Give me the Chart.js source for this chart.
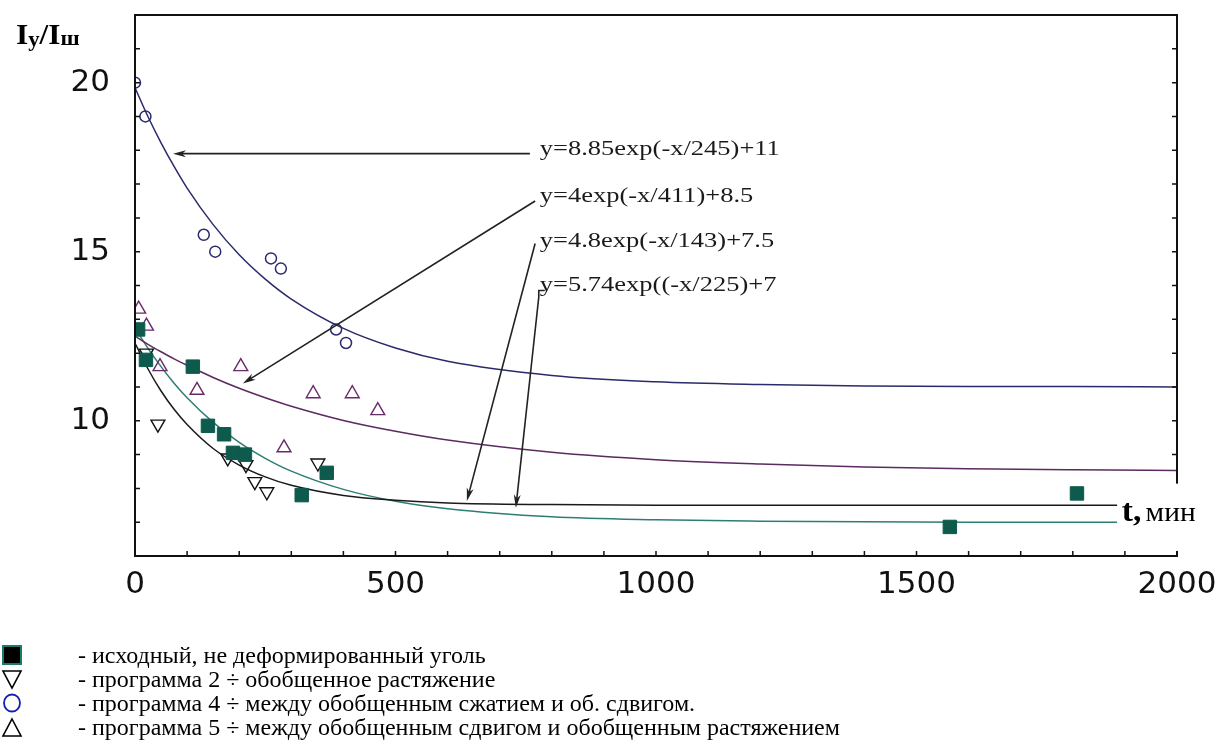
<!DOCTYPE html>
<html>
<head>
<meta charset="utf-8">
<script src="https://cdn.jsdelivr.net/npm/chart.js@4.4.1/dist/chart.umd.min.js"></script>
<style>
  html,body{margin:0;padding:0;background:#fff;}
  #wrap{position:relative;width:1222px;height:750px;overflow:hidden;background:#fff;}
  #c{position:absolute;left:0;top:0;}
  .row{position:absolute;left:0;height:24px;font-family:'Liberation Serif','Times New Roman',serif;font-size:24px;color:#000;white-space:nowrap;}
  .row svg{position:absolute;left:1px;top:1px;}
  .row span{position:absolute;left:78px;top:0;line-height:24px;}
</style>
</head>
<body>
<div id="wrap">
  <canvas id="c" width="1222" height="750"></canvas>
  <div class="row" style="top:643px"><svg width="22" height="22"><rect x="2" y="2" width="18" height="18" fill="#000" stroke="#1d7a70" stroke-width="2"/></svg><span>- исходный, не деформированный уголь</span></div>
  <div class="row" style="top:667px"><svg width="22" height="22"><polygon points="2,3 20,3 11,20" fill="none" stroke="#000" stroke-width="1.6"/></svg><span>- программа 2 ÷ обобщенное растяжение</span></div>
  <div class="row" style="top:691px"><svg width="22" height="22"><ellipse cx="11" cy="11" rx="8" ry="8.5" fill="none" stroke="#1020b0" stroke-width="1.8"/></svg><span>- программа 4 ÷ между обобщенным сжатием и об. сдвигом.</span></div>
  <div class="row" style="top:715px"><svg width="22" height="22"><polygon points="11,3 20,20 2,20" fill="none" stroke="#000" stroke-width="1.6"/></svg><span>- программа 5 ÷ между обобщенным сдвигом и обобщенным растяжением</span></div>
</div>
<script>
// ---- measured points ----
const squaresX = [6, 21, 111, 140, 171, 188, 211, 320, 368, 1564, 1808];
const squaresY = [12.7, 11.8, 11.6, 9.85, 9.6, 9.05, 9.0, 7.8, 8.46, 6.86, 7.85];

const downX = [22, 44, 178, 213, 230, 253, 351];
const downY = [12.0, 9.9, 8.9, 8.7, 8.2, 7.9, 8.75];

const circleX = [0, 20, 132, 154, 261, 280, 386, 405];
const circleY = [20.0, 19.0, 15.5, 15.0, 14.8, 14.5, 12.7, 12.3];

const upX = [7, 22, 48, 119, 203, 286, 342, 417, 466];
const upY = [13.3, 12.8, 11.6, 10.9, 11.6, 9.2, 10.8, 10.8, 10.3];

// ---- fitted curves (values read along the drawn curves / printed fits) ----
const fitX  = [0, 25, 50, 75, 100, 150, 200, 250, 300, 400, 500, 600, 800, 1000, 1200, 1400, 1600, 1800, 2000];
const fit1Y = [19.85, 18.99, 18.22, 17.52, 16.88, 15.80, 14.91, 14.19, 13.60, 12.73, 12.15, 11.76, 11.34, 11.15, 11.07, 11.03, 11.01, 11.01, 11.00];
const fit2Y = [12.50, 12.26, 12.04, 11.83, 11.64, 11.28, 10.96, 10.68, 10.43, 10.01, 9.69, 9.43, 9.07, 8.85, 8.72, 8.63, 8.58, 8.55, 8.53];
const fit3Y = [12.30, 11.53, 10.88, 10.34, 9.89, 9.18, 8.69, 8.34, 8.09, 7.79, 7.65, 7.57, 7.52, 7.50, 7.50, 7.50, 7.50, 7.50, 7.50];
const fit4Y = [12.74, 12.14, 11.60, 11.11, 10.68, 9.95, 9.36, 8.89, 8.51, 7.97, 7.62, 7.40, 7.16, 7.07, 7.03, 7.01, 7.00, 7.00, 7.00];

// ---- annotations (data coordinates) ----
const fitLabels = ['y=8.85exp(-x/245)+11', 'y=4exp(-x/411)+8.5', 'y=4.8exp(-x/143)+7.5', 'y=5.74exp((-x/225)+7'];
const labelX = [777, 777, 777, 777];
const labelY = [18.02, 16.63, 15.30, 13.99];
const arrowTailX = [758, 768, 768, 775];
const arrowTailY = [17.9, 16.5, 15.24, 13.66];
const arrowHeadX = [73, 207, 637, 731];
const arrowHeadY = [17.9, 11.1, 7.63, 7.43];

const xTickLabels = [0, 500, 1000, 1500, 2000];
const yTickLabels = [10, 15, 20];

const pts = (xs, ys) => xs.map((x, i) => ({x: x, y: ys[i]}));

const deco = {
  id: 'deco',
  afterDatasetsDraw(chart) {
    const c = chart.ctx, a = chart.chartArea, sx = chart.scales.x, sy = chart.scales.y;
    const X = v => sx.getPixelForValue(v), Y = v => sy.getPixelForValue(v);
    c.save();
    // ticks (inward)
    c.strokeStyle = '#111'; c.lineWidth = 1.5;
    c.beginPath();
    sx.ticks.forEach(t => { const px = X(t.value); c.moveTo(px, a.bottom); c.lineTo(px, a.bottom - 5); });
    sy.ticks.forEach(t => { const py = Y(t.value);
      c.moveTo(a.left, py); c.lineTo(a.left + 5, py);
      c.moveTo(a.right, py); c.lineTo(a.right - 5, py); });
    c.stroke();
    // frame
    c.strokeStyle = '#111'; c.lineWidth = 2;
    c.strokeRect(a.left, a.top, a.right - a.left, a.bottom - a.top);

    // arrows
    c.strokeStyle = '#222'; c.fillStyle = '#222'; c.lineWidth = 1.6;
    for (let i = 0; i < arrowTailX.length; i++) {
      const x1 = X(arrowTailX[i]), y1 = Y(arrowTailY[i]), x2 = X(arrowHeadX[i]), y2 = Y(arrowHeadY[i]);
      const ang = Math.atan2(y2 - y1, x2 - x1), L = 13, W = 3.5;
      c.beginPath(); c.moveTo(x1, y1); c.lineTo(x2 - Math.cos(ang) * L * 0.6, y2 - Math.sin(ang) * L * 0.6); c.stroke();
      c.beginPath();
      c.moveTo(x2, y2);
      c.lineTo(x2 - Math.cos(ang) * L - Math.sin(ang) * W, y2 - Math.sin(ang) * L + Math.cos(ang) * W);
      c.lineTo(x2 - Math.cos(ang) * L * 0.7, y2 - Math.sin(ang) * L * 0.7);
      c.lineTo(x2 - Math.cos(ang) * L + Math.sin(ang) * W, y2 - Math.sin(ang) * L - Math.cos(ang) * W);
      c.closePath(); c.fill();
    }
    // small bracket at 4th label
    c.beginPath(); c.moveTo(X(arrowTailX[3]), Y(arrowTailY[3])); c.lineTo(X(arrowTailX[3]), Y(13.85)); c.lineTo(X(arrowTailX[3]) + 6, Y(13.85)); c.stroke();

    // fit labels
    c.font = '21px "Liberation Serif", "Times New Roman", serif';
    c.fillStyle = '#1a1a1a'; c.textBaseline = 'middle'; c.textAlign = 'left';
    const w0 = c.measureText(fitLabels[0]).width;
    const k = 240 / w0;
    fitLabels.forEach((t, i) => {
      c.save(); c.translate(X(labelX[i]), Y(labelY[i])); c.scale(k, 1); c.fillText(t, 0, 0); c.restore();
    });

    // white box with axis name "t, мин"
    c.fillStyle = '#fff';
    c.fillRect(X(1885), Y(8.14), chart.width - X(1885), Y(6.15) - Y(8.14));
    c.fillStyle = '#000'; c.textBaseline = 'alphabetic';
    c.font = 'bold 32px "Liberation Serif", "Times New Roman", serif';
    const bx = X(1894), by = Y(7.04);
    c.save(); c.translate(bx, by); c.scale(1.05, 1); c.fillText('t,', 0, 0);
    const tw = c.measureText('t, ').width;
    c.font = '28px "Liberation Serif", "Times New Roman", serif';
    c.fillText('мин', tw - 4, 0);
    c.restore();

    // y-axis title Iy/Iш
    c.save();
    c.translate(16, 44); c.scale(1.08, 1);
    let x = 0;
    const big = 'bold 29px "Liberation Serif", "Times New Roman", serif';
    const small = 'bold 21px "Liberation Serif", "Times New Roman", serif';
    c.font = big; c.fillText('I', x, 0); x += c.measureText('I').width;
    c.font = small; c.fillText('y', x, 2); x += c.measureText('y').width;
    c.font = big; c.fillText('/', x, 0); x += c.measureText('/').width;
    c.fillText('I', x, 0); x += c.measureText('I').width;
    c.font = small; c.fillText('ш', x, 1);
    c.restore();
    c.restore();
  }
};

const lineDs = (ys, color) => ({
  data: pts(fitX, ys), showLine: true, pointRadius: 0, borderColor: color, borderWidth: 1.5,
  cubicInterpolationMode: 'monotone', fill: false, order: 2
});

const chart = new Chart(document.getElementById('c'), {
  type: 'scatter',
  data: {
    datasets: [
      {data: pts(squaresX, squaresY), pointStyle: 'rect', pointRadius: 9.5, backgroundColor: '#0e5a4d', borderColor: '#0e5a4d', borderWidth: 1, order: 0},
      {data: pts(downX, downY), pointStyle: 'triangle', rotation: 180, pointRadius: 8, backgroundColor: 'rgba(0,0,0,0)', borderColor: '#111', borderWidth: 1.4, order: 1},
      {data: pts(circleX, circleY), pointStyle: 'circle', pointRadius: 5.5, backgroundColor: 'rgba(0,0,0,0)', borderColor: '#2a2a70', borderWidth: 1.5, order: 1},
      {data: pts(upX, upY), pointStyle: 'triangle', pointRadius: 8, backgroundColor: 'rgba(0,0,0,0)', borderColor: '#6a2a6a', borderWidth: 1.4, order: 1},
      lineDs(fit1Y, '#2b2b6b'),
      lineDs(fit2Y, '#5b2a5e'),
      lineDs(fit3Y, '#1a1a1a'),
      lineDs(fit4Y, '#2e7d73')
    ]
  },
  options: {
    responsive: false, animation: false,
    layout: {padding: {top: 15, right: 45, left: 0, bottom: 0}},
    plugins: {legend: {display: false}, tooltip: {enabled: false}},
    scales: {
      x: {
        type: 'linear', min: 0, max: 2000,
        ticks: {stepSize: 100, autoSkip: false, maxRotation: 0, padding: 10, color: '#111',
          font: {family: 'DejaVu Sans', size: 31},
          callback: v => xTickLabels.includes(v) ? String(v) : ''},
        grid: {display: false, drawTicks: false}, border: {display: false},
        afterFit: s => { s.height = 194; s.paddingLeft = 0; s.paddingRight = 0; }
      },
      y: {
        type: 'linear', min: 6, max: 22,
        ticks: {stepSize: 1, autoSkip: false, padding: 25, color: '#111',
          font: {family: 'DejaVu Sans', size: 31},
          callback: v => yTickLabels.includes(v) ? String(v) : ''},
        grid: {display: false, drawTicks: false}, border: {display: false},
        afterFit: s => { s.width = 135; s.paddingTop = 0; s.paddingBottom = 0; }
      }
    }
  },
  plugins: [deco]
});
</script>
</body>
</html>
